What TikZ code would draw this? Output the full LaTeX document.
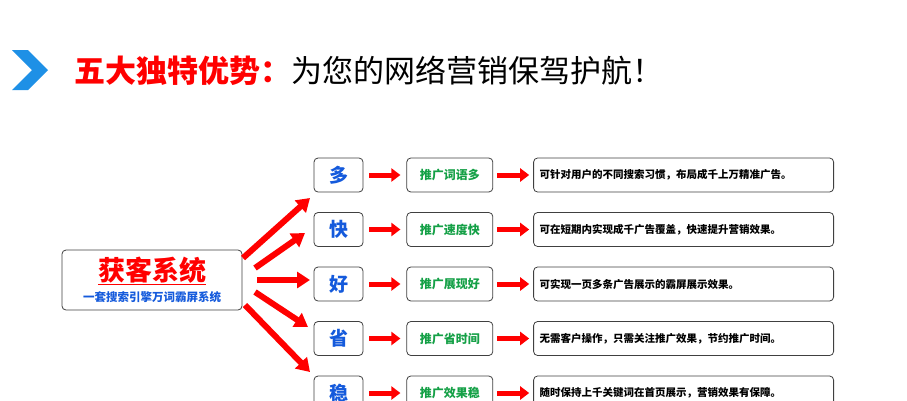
\documentclass[tikz,border=0pt]{standalone}
\usepackage{fontspec}
\setmainfont{Noto Sans CJK SC}
\usetikzlibrary{positioning,arrows.meta,calc}
\definecolor{hdblue}{RGB}{30,144,230}
\definecolor{txblue}{RGB}{20,90,220}
\definecolor{txgreen}{RGB}{20,160,70}
\tikzset{
  box/.style={draw=black!75, rounded corners=4pt, line width=0.8pt, fill=white, minimum height=34pt, inner sep=0pt},
  keybox/.style={box, minimum width=49pt, font=\fontsize{19}{19}\selectfont\bfseries, text=txblue},
  tagbox/.style={box, minimum width=86pt, font=\fontsize{12}{12}\selectfont\bfseries, text=txgreen},
  descbox/.style={box, minimum width=300pt, text width=288pt, align=left, font=\fontsize{10.5}{11}\selectfont\bfseries},
  fat/.style={draw=red, line width=6pt, -{Triangle[length=13pt,width=16pt]}},
  thin/.style={draw=red, line width=5pt, -{Triangle[length=9pt,width=13pt]}}
}
\begin{document}
\begin{tikzpicture}[x=1pt,y=-1pt]
\useasboundingbox (0,0) rectangle (907,400);
% header
\fill[hdblue] (12,50) -- (28,50) -- (48,70) -- (28,90) -- (12,90) -- (32,70) -- cycle;
\node (title) [anchor=west, inner sep=0pt] at (74,71)
  {\fontsize{31}{31}\selectfont\textcolor{red}{\bfseries 五大独特优势：}为您的网络营销保驾护航！};
% center
\node (sys) [box, minimum width=180pt, minimum height=60pt] at (152,280) {};
\node (sysname) [inner sep=0pt, text=red, font=\fontsize{27}{27}\selectfont\bfseries] at (152,271) {\underline{获客系统}};
\node (syssub) [inner sep=0pt, text=txblue, font=\fontsize{11.5}{12}\selectfont\bfseries] at (152,297) {一套搜索引擎万词霸屏系统};
% rows
\foreach \i/\k/\t/\d in {
  1/多/推广词语多/可针对用户的不同搜索习惯，布局成千上万精准广告。,
  2/快/推广速度快/可在短期内实现成千广告覆盖，快速提升营销效果。,
  3/好/推广展现好/可实现一页多条广告展示的霸屏展示效果。,
  4/省/推广省时间/无需客户操作，只需关注推广效果，节约推广时间。,
  5/稳/推广效果稳/随时保持上千关键词在首页展示，营销效果有保障。}{
  \node (k\i) [keybox] at (338.5,{175+54.5*(\i-1)}) {\k};
  \node (t\i) [tagbox, right=43pt of k\i] {\t};
  \node (d\i) [descbox, right=40pt of t\i] {\d};
  \draw[thin] ($(k\i.east)+(6,0)$) -- ($(t\i.west)+(-6,0)$);
  \draw[thin] ($(t\i.east)+(4,0)$) -- ($(d\i.west)+(-4,0)$);
}
% fan
\draw[fat] (243,258) -- (310,198);
\draw[fat] (255,268) -- (305,233);
\draw[fat] (257,280) -- (310,280);
\draw[fat] (255,292) -- (308,327);
\draw[fat] (245,305) -- (310,372);
\end{tikzpicture}
\end{document}
